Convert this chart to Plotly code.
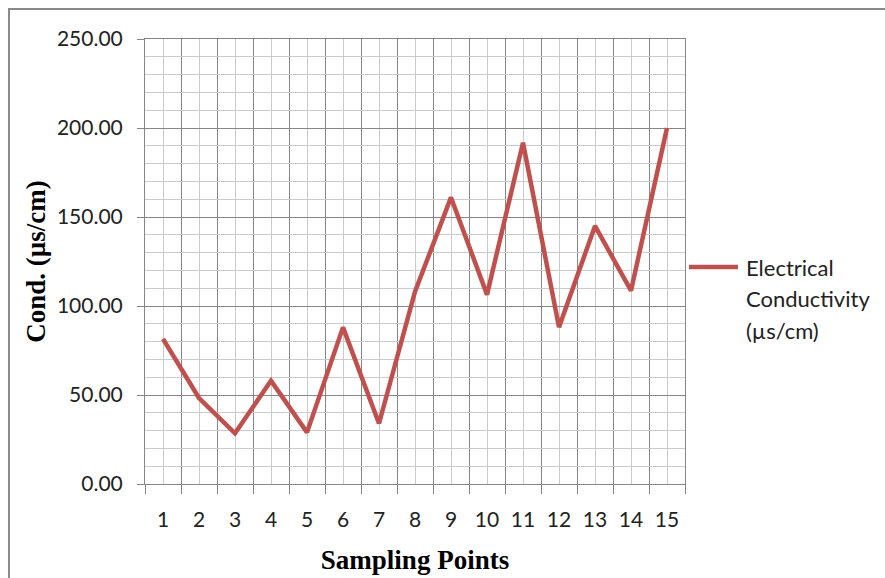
import plotly.graph_objects as go

# Sampling points and measured electrical conductivity (µs/cm)
sampling_points = list(range(1, 16))
point_labels = [str(p) for p in sampling_points]
conductivity = [81.5, 48.3, 28.5, 58.0, 29.0, 88.0, 34.0, 108.0,
                161.0, 106.4, 191.7, 88.1, 145.0, 108.6, 200.0]
y_ticks = [0, 50, 100, 150, 200, 250]
series_name = ["Electrical", "Conductivity", "(µs/cm)"]

RED = "#C0504D"
DARK = "#868686"
LIGHT = "#CBCBCB"
TICK_FONT = dict(family="Lato", size=21, color="#222222")
TITLE_FONT = dict(family="Liberation Serif", size=27, color="#000000")

fig = go.Figure()
fig.add_trace(go.Scatter(
    x=sampling_points, y=conductivity, mode="lines",
    line=dict(color=RED, width=4.5),
    name=" ".join(series_name), showlegend=False,
))

fig.update_layout(
    width=885, height=578,
    margin=dict(l=145, r=200, t=39, b=94),
    paper_bgcolor="white", plot_bgcolor="white",
    xaxis=dict(
        range=[0.5, 15.5], tickmode="array",
        tickvals=sampling_points, ticktext=point_labels,
        ticks="", showgrid=True, gridcolor=LIGHT, gridwidth=1,
        showline=True, linecolor=DARK, linewidth=1, mirror=True,
        zeroline=False, tickfont=TICK_FONT, ticklabelstandoff=17,
        automargin=False,
        minor=dict(tickmode="array",
                   tickvals=[p + 0.5 for p in range(0, 16)],
                   ticks="outside", ticklen=9, tickcolor=DARK,
                   showgrid=True, gridcolor=DARK, gridwidth=1),
        title=dict(text="<b>Sampling Points</b>", font=TITLE_FONT, standoff=19),
    ),
    yaxis=dict(
        range=[0, 250], tickmode="array", tickvals=y_ticks,
        tickformat=".2f", ticks="outside", ticklen=7, tickcolor=DARK,
        showgrid=True, gridcolor=DARK, gridwidth=1,
        showline=True, linecolor=DARK, linewidth=1, mirror=True,
        zeroline=False, tickfont=TICK_FONT, ticklabelstandoff=10,
        automargin=False,
        minor=dict(dtick=10, tick0=0, showgrid=True, gridcolor=LIGHT,
                   gridwidth=1, ticks=""),
        title=dict(text="<b>Cond. (µs/cm)</b>", font=TITLE_FONT, standoff=3),
    ),
)

# Series key to the right of the plot
fig.add_shape(type="line", xref="paper", yref="paper",
              x0=1.0074, x1=1.0981, y0=0.4876, y1=0.4876,
              line=dict(color=RED, width=4.5))
for i, part in enumerate(series_name):
    fig.add_annotation(xref="paper", yref="paper", x=1.1093,
                       y=0.4876 - i * 0.0708,
                       xanchor="left", yanchor="middle", align="left",
                       showarrow=False, text=part,
                       font=dict(family="Lato", size=22, color="#222222"))

# Chart frame
fig.add_shape(type="rect", xref="paper", yref="paper",
              x0=-0.2519, x1=1.38, y0=-0.23, y1=1.0674,
              line=dict(color="#8A8A8A", width=2), layer="below")

fig.write_html("out.html")
